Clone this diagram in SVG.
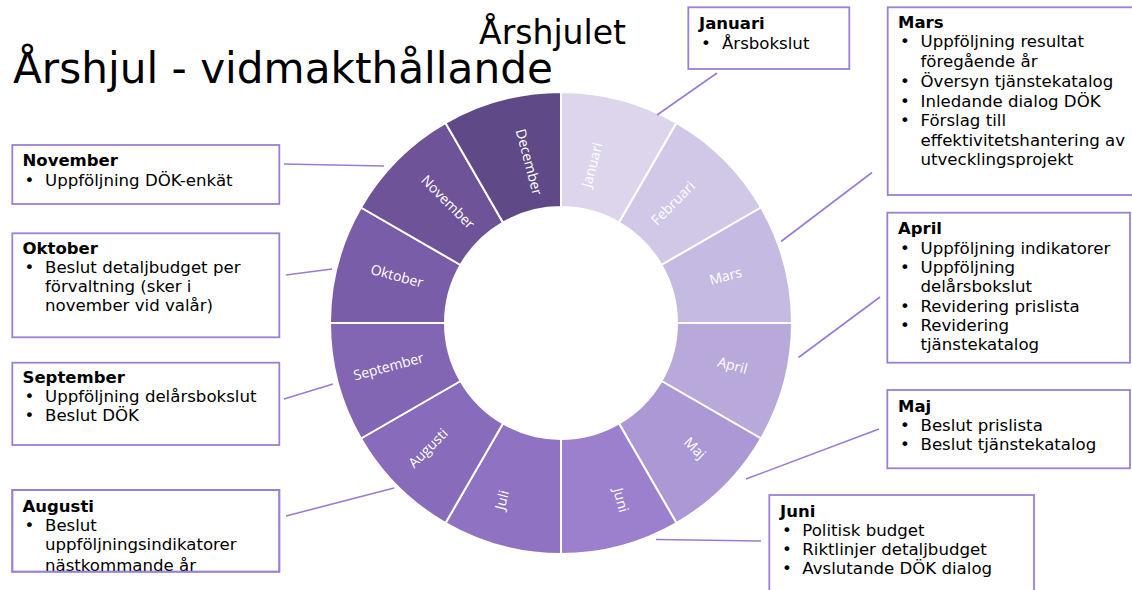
<svg xmlns="http://www.w3.org/2000/svg" width="1132" height="590" viewBox="0 0 1132 590">
<style>
.seg{stroke:#ffffff;stroke-width:2}
.lbl{font-family:"Open Sans","DejaVu Sans",sans-serif;font-size:14px;fill:#ffffff;text-anchor:middle}
.box{fill:#ffffff;stroke:#9b80d4;stroke-width:1.8}
.h{font-family:"DejaVu Sans",Verdana,sans-serif;font-size:16.5px;font-weight:bold;fill:#000000}
.t{font-family:"DejaVu Sans",Verdana,sans-serif;font-size:16.6px;fill:#000000}
.con{stroke:#9a7bd6;stroke-width:1.6;fill:none}
.title{font-family:"DejaVu Sans",Verdana,sans-serif;fill:#000000}
</style>
<defs>
<clipPath id="clipAug"><rect x="12.3" y="490" width="267" height="81.7"/></clipPath>
</defs>
<rect width="1132" height="590" fill="#ffffff"/>
<text class="title" x="479" y="43.5" font-size="33.1">Årshjulet</text>
<text class="title" x="13" y="82.7" font-size="42.2">Årshjul - vidmakthållande</text>

<g id="wheel">
<g id="seg-januari"><path class="seg" fill="#dcd5ec" d="M561 92 A231 231 0 0 1 676.5 122.95 L619 222.54 A116 116 0 0 0 561 207 Z"/><text class="lbl" transform="translate(592,165) rotate(-75)" dy="0.35em">Januari</text></g>
<g id="seg-februari"><path class="seg" fill="#d1c8e7" d="M676.5 122.95 A231 231 0 0 1 761.05 207.5 L661.46 265 A116 116 0 0 0 619 222.54 Z"/><text class="lbl" transform="translate(673,203) rotate(-45)" dy="0.35em">Februari</text></g>
<g id="seg-mars"><path class="seg" fill="#c5bae1" d="M761.05 207.5 A231 231 0 0 1 792 323 L677 323 A116 116 0 0 0 661.46 265 Z"/><text class="lbl" transform="translate(725.5,276) rotate(-15)" dy="0.35em">Mars</text></g>
<g id="seg-april"><path class="seg" fill="#b9a9db" d="M792 323 A231 231 0 0 1 761.05 438.5 L661.46 381 A116 116 0 0 0 677 323 Z"/><text class="lbl" transform="translate(732.5,365.5) rotate(15)" dy="0.35em">April</text></g>
<g id="seg-maj"><path class="seg" fill="#ac98d5" d="M761.05 438.5 A231 231 0 0 1 676.5 523.05 L619 423.46 A116 116 0 0 0 661.46 381 Z"/><text class="lbl" transform="translate(695,448) rotate(45)" dy="0.35em">Maj</text></g>
<g id="seg-juni"><path class="seg" fill="#9d80cd" d="M676.5 523.05 A231 231 0 0 1 561 554 L561 439 A116 116 0 0 0 619 423.46 Z"/><text class="lbl" transform="translate(621,500) rotate(75)" dy="0.35em">Juni</text></g>
<g id="seg-juli"><path class="seg" fill="#9072c3" d="M561 554 A231 231 0 0 1 445.5 523.05 L503 423.46 A116 116 0 0 0 561 439 Z"/><text class="lbl" transform="translate(502,500) rotate(-75)" dy="0.35em">Juli</text></g>
<g id="seg-augusti"><path class="seg" fill="#886bba" d="M445.5 523.05 A231 231 0 0 1 360.95 438.5 L460.54 381 A116 116 0 0 0 503 423.46 Z"/><text class="lbl" transform="translate(428,448) rotate(-45)" dy="0.35em">Augusti</text></g>
<g id="seg-september"><path class="seg" fill="#8265b3" d="M360.95 438.5 A231 231 0 0 1 330 323 L445 323 A116 116 0 0 0 460.54 381 Z"/><text class="lbl" transform="translate(388.5,366.5) rotate(-15)" dy="0.35em">September</text></g>
<g id="seg-oktober"><path class="seg" fill="#7a5da8" d="M330 323 A231 231 0 0 1 360.95 207.5 L460.54 265 A116 116 0 0 0 445 323 Z"/><text class="lbl" transform="translate(397,276) rotate(15)" dy="0.35em">Oktober</text></g>
<g id="seg-november"><path class="seg" fill="#6e5399" d="M360.95 207.5 A231 231 0 0 1 445.5 122.95 L503 222.54 A116 116 0 0 0 460.54 265 Z"/><text class="lbl" transform="translate(448,202) rotate(45)" dy="0.35em">November</text></g>
<g id="seg-december"><path class="seg" fill="#5f4a87" d="M445.5 122.95 A231 231 0 0 1 561 92 L561 207 A116 116 0 0 0 503 222.54 Z"/><text class="lbl" transform="translate(529,162) rotate(75)" dy="0.35em">December</text></g>
</g>

<g id="connectors">
<line class="con" x1="657" y1="115" x2="717" y2="73"/>
<line class="con" x1="781" y1="241.5" x2="872" y2="172.5"/>
<line class="con" x1="798.5" y1="357.5" x2="880" y2="297"/>
<line class="con" x1="746" y1="479" x2="879" y2="429"/>
<line class="con" x1="656" y1="539.5" x2="761" y2="541"/>
<line class="con" x1="284" y1="164" x2="384" y2="166"/>
<line class="con" x1="286" y1="275" x2="332" y2="269"/>
<line class="con" x1="284" y1="399" x2="333" y2="384"/>
<line class="con" x1="286" y1="516" x2="394" y2="488"/>
</g>

<g id="box-januari">
<rect class="box" x="688.3" y="7.3" width="161" height="61.7"/>
<text class="h" x="699" y="28.5">Januari</text>
<text class="t" x="701" y="48.5">•</text><text class="t" x="722" y="48.5">Årsbokslut</text>
</g>

<g id="box-mars">
<rect class="box" x="887.7" y="7.3" width="260" height="187.7"/>
<text class="h" x="898" y="27.5">Mars</text>
<text class="t" x="900" y="47.3">•</text><text class="t" x="920.5" y="47.3">Uppföljning resultat</text>
<text class="t" x="920.5" y="66.9">föregående år</text>
<text class="t" x="900" y="86.7">•</text><text class="t" x="920.5" y="86.7">Översyn tjänstekatalog</text>
<text class="t" x="900" y="106.5">•</text><text class="t" x="920.5" y="106.5">Inledande dialog DÖK</text>
<text class="t" x="900" y="126.3">•</text><text class="t" x="920.5" y="126.3">Förslag till</text>
<text class="t" x="920.5" y="145.7">effektivitetshantering av</text>
<text class="t" x="920.5" y="165.4">utvecklingsprojekt</text>
</g>

<g id="box-april">
<rect class="box" x="887.3" y="212.7" width="242.7" height="150"/>
<text class="h" x="898" y="234">April</text>
<text class="t" x="900" y="253.8">•</text><text class="t" x="920.5" y="253.8">Uppföljning indikatorer</text>
<text class="t" x="900" y="273.1">•</text><text class="t" x="920.5" y="273.1">Uppföljning</text>
<text class="t" x="920.5" y="292.3">delårsbokslut</text>
<text class="t" x="900" y="311.6">•</text><text class="t" x="920.5" y="311.6">Revidering prislista</text>
<text class="t" x="900" y="330.8">•</text><text class="t" x="920.5" y="330.8">Revidering</text>
<text class="t" x="920.5" y="350">tjänstekatalog</text>
</g>

<g id="box-maj">
<rect class="box" x="887.3" y="390" width="242.7" height="78.3"/>
<text class="h" x="898" y="411.5">Maj</text>
<text class="t" x="900" y="430.5">•</text><text class="t" x="920.5" y="430.5">Beslut prislista</text>
<text class="t" x="900" y="449.8">•</text><text class="t" x="920.5" y="449.8">Beslut tjänstekatalog</text>
</g>

<g id="box-juni">
<rect class="box" x="769.3" y="495" width="264.7" height="110"/>
<text class="h" x="780" y="516.5">Juni</text>
<text class="t" x="782" y="535.7">•</text><text class="t" x="802.3" y="535.7">Politisk budget</text>
<text class="t" x="782" y="554.8">•</text><text class="t" x="802.3" y="554.8">Riktlinjer detaljbudget</text>
<text class="t" x="782" y="574">•</text><text class="t" x="802.3" y="574">Avslutande DÖK dialog</text>
</g>

<g id="box-november">
<rect class="box" x="12.3" y="145" width="267" height="59"/>
<text class="h" x="22.5" y="166">November</text>
<text class="t" x="24.5" y="185.6">•</text><text class="t" x="45" y="185.6">Uppföljning DÖK-enkät</text>
</g>

<g id="box-oktober">
<rect class="box" x="12.3" y="233.3" width="267" height="104"/>
<text class="h" x="22.5" y="254">Oktober</text>
<text class="t" x="24.5" y="273">•</text><text class="t" x="45" y="273">Beslut detaljbudget per</text>
<text class="t" x="45" y="292">förvaltning (sker i</text>
<text class="t" x="45" y="311">november vid valår)</text>
</g>

<g id="box-september">
<rect class="box" x="12.3" y="362.7" width="267" height="82.3"/>
<text class="h" x="22.5" y="382.7">September</text>
<text class="t" x="24.5" y="401.8">•</text><text class="t" x="45" y="401.8">Uppföljning delårsbokslut</text>
<text class="t" x="24.5" y="421">•</text><text class="t" x="45" y="421">Beslut DÖK</text>
</g>

<g id="box-augusti">
<rect class="box" x="12.3" y="490" width="267" height="81.7"/>
<g clip-path="url(#clipAug)">
<text class="h" x="22.5" y="511.5">Augusti</text>
<text class="t" x="24.5" y="530.8">•</text><text class="t" x="45" y="530.8">Beslut</text>
<text class="t" x="45" y="550">uppföljningsindikatorer</text>
<text class="t" x="45" y="570.5">nästkommande år</text>
</g>
<rect x="12.3" y="490" width="267" height="81.7" fill="none" stroke="#9b80d4" stroke-width="1.8"/>
</g>
</svg>
